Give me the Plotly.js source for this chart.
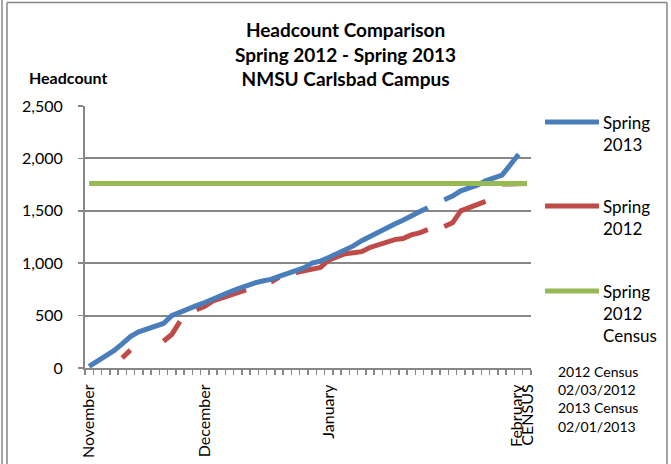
<!DOCTYPE html>
<html>
<head>
<meta charset="utf-8">
<script src="https://cdn.plot.ly/plotly-3.0.1.min.js"></script>
<style>
  html, body { margin: 0; padding: 0; background: #ffffff; }
  #chart { width: 671px; height: 464px; }
</style>
</head>
<body>
<div id="chart"></div>
<script>
// ---- Data ----
const tickLabelTexts = ['November', 'December', 'January', 'February', 'CENSUS'];
const tickLabelPositions = [0, 14, 29, 51.8, 53.15];

const spring2013 = [
  15, 65, 110, 165, 230, 300, 345, 375, 395, 425,
  500, 535, 560, 595, 625, 660, 700, 725, 755, 785,
  810, 830, 845, 875, 900, 930, 955, 1000, 1020, 1055,
  1090, 1120, 1165, 1215, 1255, 1300, 1345, 1375, 1410, 1445,
  1490, 1530, null, 1605, 1640, 1690, 1715, 1745, 1785, 1810,
  1840, 1940, 2040, null
];

const spring2012 = [
  null, null, null, null, 95, 170, null, null, null, 255,
  320, 445, null, 555, 590, 640, 665, 690, 715, 745,
  null, null, 820, 865, null, 910, 925, 940, 960, 1030,
  1065, 1090, 1100, 1110, 1150, 1175, 1200, 1225, 1235, 1270,
  1290, 1320, null, 1350, 1385, 1500, 1530, 1570, 1590, null,
  1755, 1755, 1758, 1760
];

const census2012 = [
  1760, 1760, 1760, 1760, 1760, 1760, 1760, 1760, 1760, 1760,
  1760, 1760, 1760, 1760, 1760, 1760, 1760, 1760, 1760, 1760,
  1760, 1760, 1760, 1760, 1760, 1760, 1760, 1760, 1760, 1760,
  1760, 1760, 1760, 1760, 1760, 1760, 1760, 1760, 1760, 1760,
  1760, 1760, 1760, 1760, 1760, 1760, 1760, 1760, 1760, 1760,
  1760, 1760, 1760, 1760
];

const seriesNames = ['Spring<br>2013', 'Spring<br>2012', 'Spring<br>2012<br>Census'];
const seriesColors = ['#4A7EBB', '#BE4B48', '#98B954'];
const noteText = '2012 Census<br>02/03/2012<br>2013 Census<br>02/01/2013';

// ---- Layout helpers (pixel -> paper) ----
const PL = 85, PR = 531, PT = 106, PB = 368;
const X = px => (px - PL) / (PR - PL);
const Y = py => (PB - py) / (PB - PT);

const xIdx = spring2013.map((_, i) => i);
const FONT = 'Lato, "Open Sans", sans-serif';
const GRAY = '#878787';

const traces = [
  { x: xIdx, y: census2012, name: 'Spring 2012 Census', mode: 'lines',
    line: { color: seriesColors[2], width: 5 }, showlegend: false },
  { x: xIdx, y: spring2012, name: 'Spring 2012', mode: 'lines',
    line: { color: seriesColors[1], width: 5 }, showlegend: false },
  { x: xIdx, y: spring2013, name: 'Spring 2013', mode: 'lines',
    line: { color: seriesColors[0], width: 5 }, showlegend: false }
];

const drawOrder = [traces[1], traces[2], traces[0]];

const legendRows = [
  { py: 122, text: seriesNames[0], color: seriesColors[0] },
  { py: 206, text: seriesNames[1], color: seriesColors[1] },
  { py: 291, text: seriesNames[2], color: seriesColors[2] }
];

const shapes = [
  { type: 'line', xref: 'paper', yref: 'paper', x0: X(2), x1: X(2), y0: Y(0), y1: Y(464), line: { color: GRAY, width: 1.5 } },
  { type: 'line', xref: 'paper', yref: 'paper', x0: X(7), x1: X(7), y0: Y(2.5), y1: Y(464), line: { color: GRAY, width: 1.5 } },
  { type: 'line', xref: 'paper', yref: 'paper', x0: X(7), x1: X(667), y0: Y(2.5), y1: Y(2.5), line: { color: GRAY, width: 1.5 } },
  { type: 'line', xref: 'paper', yref: 'paper', x0: X(667), x1: X(667), y0: Y(2.5), y1: Y(464), line: { color: GRAY, width: 1.5 } }
];
const annotations = [
  { xref: 'paper', yref: 'paper', x: X(345), y: Y(54), xanchor: 'center', yanchor: 'middle',
    text: '<b>Headcount Comparison<br>Spring 2012 - Spring 2013<br>NMSU Carlsbad Campus</b>',
    showarrow: false, font: { family: FONT, size: 19, color: '#000' } },
  { xref: 'paper', yref: 'paper', x: X(27), y: Y(77), xanchor: 'left', yanchor: 'middle',
    text: '<b>Headcount</b>', showarrow: false, font: { family: FONT, size: 16, color: '#000' } },
  { xref: 'paper', yref: 'paper', x: X(556), y: Y(361), xanchor: 'left', yanchor: 'top', align: 'left',
    text: noteText, showarrow: false, font: { family: FONT, size: 14, color: '#000' } }
];
legendRows.forEach(r => {
  shapes.push({ type: 'line', xref: 'paper', yref: 'paper', x0: X(545), x1: X(599), y0: Y(r.py), y1: Y(r.py),
    line: { color: r.color, width: 5 } });
  annotations.push({ xref: 'paper', yref: 'paper', x: X(601), y: Y(r.py - 12), xanchor: 'left', yanchor: 'top',
    align: 'left', text: r.text, showarrow: false, font: { family: FONT, size: 17, color: '#000' } });
});

const layout = {
  width: 671, height: 464,
  margin: { l: PL, r: 671 - PR, t: PT, b: 464 - PB, pad: 0 },
  paper_bgcolor: '#ffffff', plot_bgcolor: '#ffffff',
  font: { family: FONT, size: 16, color: '#000' },
  showlegend: false,
  xaxis: {
    type: 'linear', range: [-0.5, 53.5], fixedrange: true,
    tickmode: 'array', tickvals: tickLabelPositions, ticktext: tickLabelTexts,
    tickangle: -90, ticks: '', showgrid: false, zeroline: false,
    showline: true, linecolor: GRAY, linewidth: 2,
    tickfont: { family: FONT, size: 16, color: '#000' },
    ticklabelstandoff: 8,
    minor: { ticks: 'outside', tick0: -0.5, dtick: 1, ticklen: 5, tickcolor: GRAY, tickwidth: 1.5, showgrid: false }
  },
  yaxis: {
    range: [0, 2500], dtick: 500, tick0: 0, tickformat: ',d', fixedrange: true,
    ticks: 'outside', ticklen: 5, tickcolor: GRAY, tickwidth: 1.5,
    showgrid: true, gridcolor: GRAY, gridwidth: 2,
    showline: true, linecolor: GRAY, linewidth: 2, zeroline: false,
    tickfont: { family: FONT, size: 16, color: '#000' },
    ticklabelstandoff: 12
  },
  shapes: shapes,
  annotations: annotations
};

Plotly.newPlot('chart', drawOrder, layout, { displayModeBar: false, staticPlot: true });
</script>
</body>
</html>
